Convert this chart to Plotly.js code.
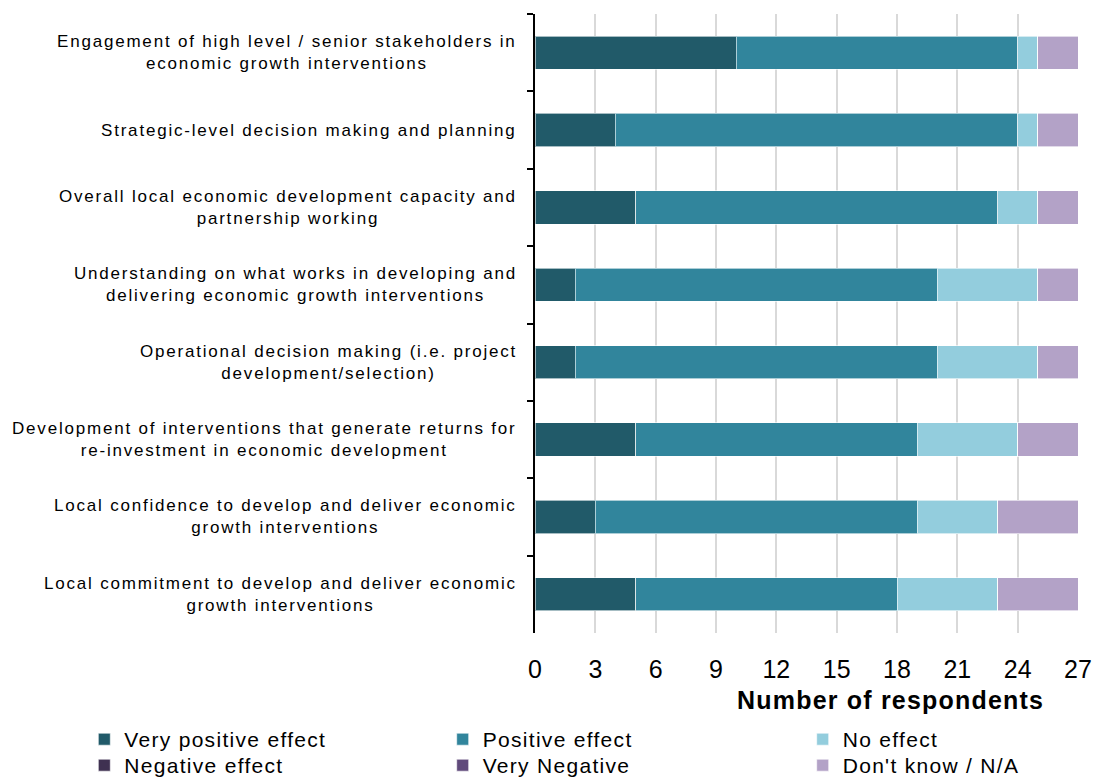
<!DOCTYPE html>
<html>
<head>
<meta charset="utf-8">
<script src="https://cdn.plot.ly/plotly-3.0.1.min.js"></script>
<style>
html,body{margin:0;padding:0;background:#fff;}
#chart{width:1096px;height:780px;}
</style>
</head>
<body>
<div id="chart"></div>
<script>
const categories = [
  "Engagement of high level / senior stakeholders in<br>economic growth interventions",
  "Strategic-level decision making and planning",
  "Overall local economic development capacity and<br>partnership working",
  "Understanding on what works in developing and<br>delivering economic growth interventions",
  "Operational decision making (i.e. project<br>development/selection)",
  "Development of interventions that generate returns for<br>re-investment in economic development",
  "Local confidence to develop and deliver economic<br>growth interventions",
  "Local commitment to develop and deliver economic<br>growth interventions"
];
const seriesNames = ["Very positive effect", "Positive effect", "No effect", "Negative effect", "Very Negative", "Don't know / N/A"];
const veryPositive = [10, 4, 5, 2, 2, 5, 3, 5];
const positive     = [14, 20, 18, 18, 18, 14, 16, 13];
const noEffect     = [1, 1, 2, 5, 5, 5, 4, 5];
const negative     = [0, 0, 0, 0, 0, 0, 0, 0];
const veryNegative = [0, 0, 0, 0, 0, 0, 0, 0];
const dontKnow     = [2, 2, 2, 2, 2, 3, 4, 4];
const xTicks = [0, 3, 6, 9, 12, 15, 18, 21, 24, 27];
const xTitle = "Number of respondents";

const seriesValues = [veryPositive, positive, noEffect, negative, veryNegative, dontKnow];
const colors = ["#215A69", "#31859C", "#93CDDD", "#3F3151", "#604A7B", "#B3A2C7"];
const legendIds = ["legend", "legend2", "legend3", "legend4", "legend5", "legend6"];

function spaced(text, px) {
  return text.split("<br>").map(s => '<span style="letter-spacing:' + px + 'px">' + s + '</span>').join("<br>");
}

const traces = seriesNames.map((name, i) => ({
  type: "bar",
  orientation: "h",
  name: spaced(name, 1.3),
  y: categories,
  x: seriesValues[i],
  marker: {color: colors[i], line: {color: "rgba(255,255,255,0.6)", width: 1}},
  legend: legendIds[i],
  hovertemplate: name + ": %{x}<extra></extra>"
}));

const FONT = "Liberation Sans, Arial, sans-serif";
const annotations = categories.map(c => ({
  xref: "paper", yref: "y", x: -0.029, y: c, xanchor: "right", yanchor: "middle",
  text: spaced(c, 1.8), showarrow: false, align: "center",
  font: {family: FONT, size: 17, color: "#000"}
}));
annotations.push({
  xref: "paper", yref: "paper", x: 0.654, y: -0.109, xanchor: "center", yanchor: "middle",
  text: "<b>" + spaced(xTitle, 1.2) + "</b>", showarrow: false,
  font: {family: FONT, size: 25, color: "#000"}
});

// legend positions: three columns, two rows
const colX = [-0.83, -0.17, 0.493];
const rowY = [-0.139, -0.181];
const legendLayouts = {};
legendIds.forEach((id, i) => {
  legendLayouts[id] = {
    orientation: "v", xanchor: "left", yanchor: "top",
    x: colX[i % 3], y: rowY[Math.floor(i / 3)],
    font: {family: FONT, size: 21, color: "#000"},
    bgcolor: "rgba(0,0,0,0)", itemclick: false, itemdoubleclick: false
  };
});

const layout = Object.assign({
  width: 1096, height: 780,
  margin: {l: 535, r: 18, t: 14, b: 147, autoexpand: false},
  paper_bgcolor: "#fff", plot_bgcolor: "#fff",
  barmode: "stack",
  bargap: 0.57,
  font: {family: FONT, color: "#000"},
  xaxis: {
    range: [0, 27], tickvals: xTicks, ticktext: xTicks.map(String),
    showgrid: true, gridcolor: "#d9d9d9", gridwidth: 1.5,
    zeroline: false, showline: false, ticks: "",
    tickfont: {family: FONT, size: 25, color: "#000"}, ticklabelstandoff: 19, fixedrange: true
  },
  yaxis: {
    type: "category", autorange: "reversed", showticklabels: false,
    showline: true, linecolor: "#000", linewidth: 2,
    ticks: "outside", tickson: "boundaries", ticklen: 6, tickcolor: "#000", tickwidth: 2,
    showgrid: false, zeroline: false, fixedrange: true
  },
  showlegend: true,
  annotations: annotations
}, legendLayouts);

Plotly.newPlot("chart", traces, layout, {displayModeBar: false});
</script>
</body>
</html>
